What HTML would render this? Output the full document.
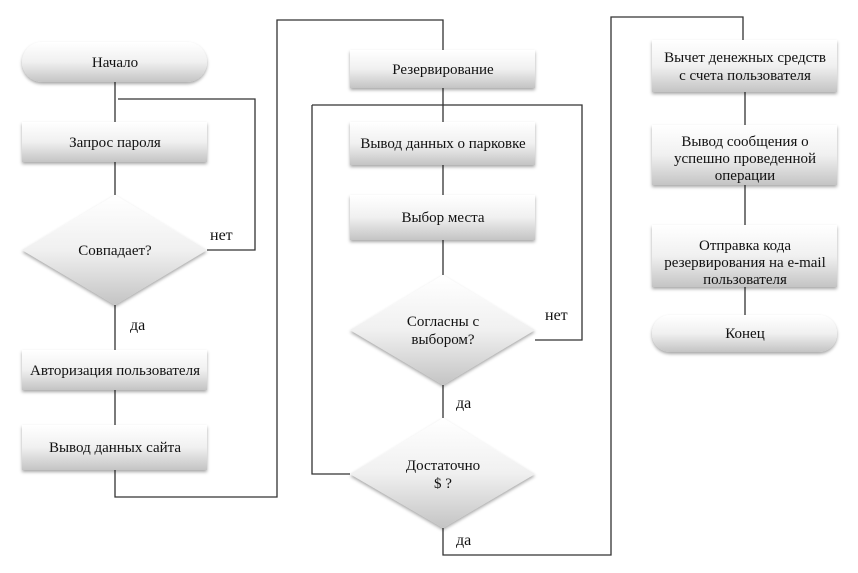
<!DOCTYPE html>
<html><head><meta charset="utf-8"><style>body{margin:0;background:#fff}svg{display:block}</style></head><body>
<svg width="858" height="573" xmlns="http://www.w3.org/2000/svg" font-family="'Liberation Serif', serif" font-size="15" fill="#111">
<defs>
<linearGradient id="g" x1="0" y1="0" x2="0" y2="1"><stop offset="0" stop-color="#ffffff"/><stop offset="0.5" stop-color="#f0f0f0"/><stop offset="1" stop-color="#c4c4c4"/></linearGradient>
<filter id="s" x="-10%" y="-10%" width="120%" height="130%"><feDropShadow dx="0" dy="2" stdDeviation="1.5" flood-color="#000" flood-opacity="0.35"/></filter>
</defs>
<g stroke="#333" stroke-width="1.3" fill="none">
<path d="M115 82V122M118 99H255V250H207M115 162V195M115 305V350M115 390V425M115 470V497H277V20H443V50"/>
<path d="M443 88V122M312 105H582V340H535M312 105V474H350M443 165V195M443 240V275M443 385V418M443 528V555H611V17H743V40"/>
<path d="M745 92V125M745 185V225M745 287V315"/>
</g>
<g fill="url(#g)" filter="url(#s)">
<rect x="22" y="42" width="185" height="40" rx="20"/>
<rect x="22" y="122" width="185" height="40"/>
<polygon points="115,195 207,250 115,305 22,250"/>
<rect x="22" y="350" width="185" height="40"/>
<rect x="22" y="425" width="185" height="45"/>
<rect x="350" y="50" width="185" height="38"/>
<rect x="350" y="122" width="185" height="43"/>
<rect x="350" y="195" width="185" height="45"/>
<polygon points="443,275 535,330 443,385 350,330"/>
<polygon points="443,418 535,474 443,528 350,474"/>
<rect x="652" y="40" width="185" height="52"/>
<rect x="652" y="125" width="185" height="60"/>
<rect x="652" y="225" width="185" height="62"/>
<rect x="652" y="315" width="185" height="37" rx="18"/>
</g>
<g text-anchor="middle">
<text x="115" y="67">Начало</text>
<text x="115" y="147">Запрос пароля</text>
<text x="115" y="255">Совпадает?</text>
<text x="115" y="375">Авторизация пользователя</text>
<text x="115" y="452">Вывод данных сайта</text>
<text x="443" y="74">Резервирование</text>
<text x="443" y="148">Вывод данных о парковке</text>
<text x="443" y="222">Выбор места</text>
<text x="443" y="326">Согласны с</text>
<text x="443" y="344">выбором?</text>
<text x="443" y="470">Достаточно</text>
<text x="443" y="488">$ ?</text>
<text x="745" y="62">Вычет денежных средств</text>
<text x="745" y="80">с счета пользователя</text>
<text x="745" y="146">Вывод сообщения о</text>
<text x="745" y="163">успешно проведенной</text>
<text x="745" y="180">операции</text>
<text x="745" y="250">Отправка кода</text>
<text x="745" y="267">резервирования на e-mail</text>
<text x="745" y="284">пользователя</text>
<text x="745" y="338">Конец</text>
</g>
<g font-size="16">
<text x="210" y="240">нет</text>
<text x="130" y="330">да</text>
<text x="545" y="320">нет</text>
<text x="456" y="408">да</text>
<text x="456" y="545">да</text>
</g>
</svg>
</body></html>
